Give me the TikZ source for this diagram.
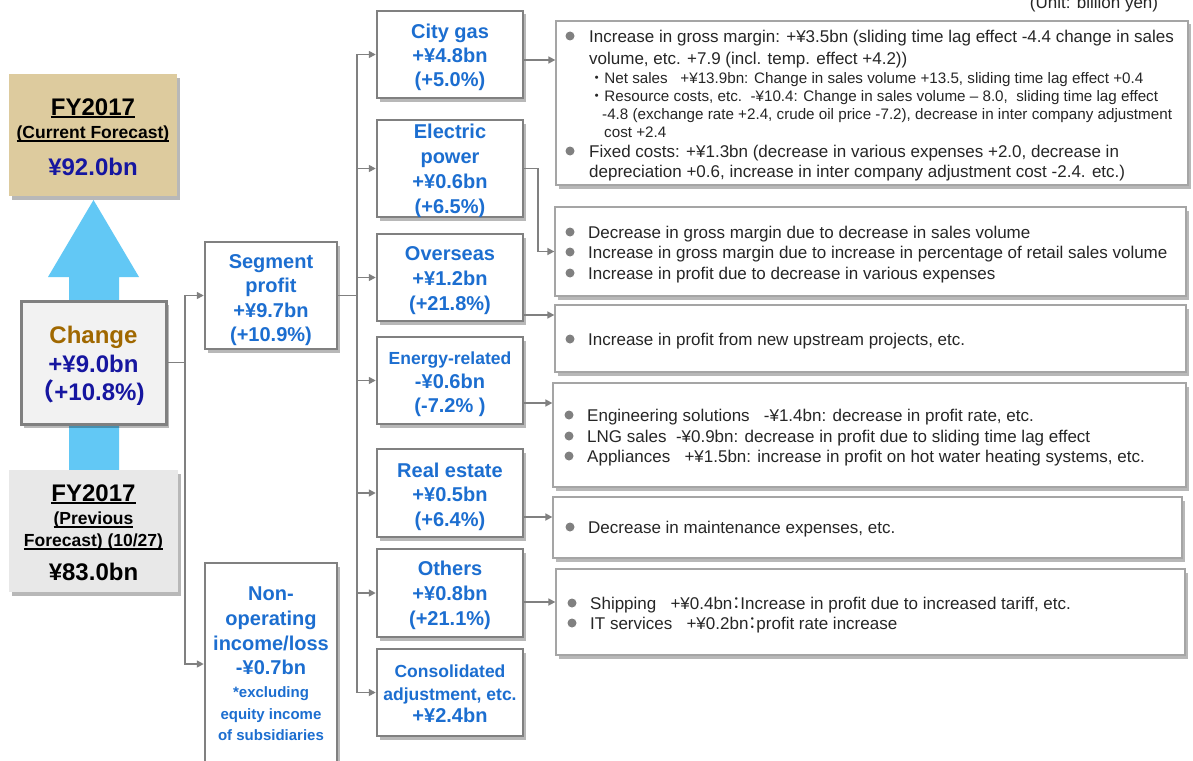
\documentclass[tikz,border=0pt]{standalone}
\usepackage{fontspec}
\setmainfont{Liberation Sans}
\newfontfamily\cjk{Noto Sans CJK JP}
\usetikzlibrary{arrows.meta,shadows,calc}
\definecolor{tanc}{RGB}{221,203,158}
\definecolor{skyb}{RGB}{98,200,245}
\definecolor{txtblue}{RGB}{28,110,208}
\definecolor{dkblue}{RGB}{22,22,160}
\definecolor{brnc}{RGB}{160,104,0}
\definecolor{chfill}{RGB}{242,242,242}
\definecolor{pvfill}{RGB}{232,232,232}
\definecolor{bordc}{RGB}{128,128,128}
\definecolor{rbordc}{RGB}{165,165,165}
\definecolor{wirec}{RGB}{128,128,128}
\definecolor{dotc}{RGB}{128,128,128}
\definecolor{rtxt}{RGB}{38,38,38}
\newcommand\ulx[2][1.8pt]{\setbox0=\hbox{#2}\leavevmode\rlap{\rule[-3pt]{\wd0}{#1}}\box0}
\tikzset{
 shad/.style={drop shadow={shadow xshift=3pt,shadow yshift=-3.5pt,opacity=0.28,fill=black}},
 midbox/.style={shad,draw=bordc,line width=2.5pt,fill=white,inner sep=0,minimum width=146pt},
 rbox/.style={shad,draw=rbordc,line width=1.3pt,fill=white,inner sep=0},
 wire/.style={draw=wirec,line width=1.6pt},
 arr/.style={wire,-{Triangle[length=7pt,width=7pt]}},
 bt/.style={inner sep=0,anchor=mid,yshift=-4.5pt,text=txtblue,font=\fontsize{20}{24}\selectfont\bfseries},
 bts/.style={bt,font=\fontsize{17.5}{21}\selectfont\bfseries},
 btx/.style={bt,font=\fontsize{15}{18}\selectfont\bfseries},
 rt/.style={inner sep=0,anchor=mid west,yshift=-3.5pt,text=rtxt,font=\fontsize{17}{20}\selectfont},
 rts/.style={rt,font=\fontsize{15.2}{18}\selectfont},
 lt/.style={inner sep=0,anchor=mid,yshift=-5.5pt,font=\fontsize{24}{28}\selectfont\bfseries},
 lts/.style={lt,yshift=1.5pt,font=\fontsize{17.5}{21}\selectfont\bfseries},
 bul/.style={fill=dotc}
}
\begin{document}
\begin{tikzpicture}[x=1pt,y=-1pt]
\useasboundingbox (0,0) rectangle (1193,760);
\fill[white] (0,0) rectangle (1193,760);
% big blue arrow
\fill[skyb] (69,470) -- (69,277) -- (48,277) -- (93.5,200) -- (139,277) -- (119,277) -- (119,470) -- cycle;
% left boxes
\node[shad,fill=tanc,inner sep=0,minimum width=168pt,minimum height=122pt] (cur) at (93,135) {};
\node[shad,fill=pvfill,inner sep=0,minimum width=169pt,minimum height=122pt] (prev) at (93.5,531) {};
\node[shad,fill=chfill,draw=bordc,line width=3pt,inner sep=0,minimum width=145pt,minimum height=123pt] (change) at (93.5,362.5) {};
% second column
\node[midbox,minimum width=132pt,minimum height=107pt] (seg) at (271,295.5) {};
\node[midbox,minimum width=132pt,minimum height=202pt] (nonop) at (271,664) {};
% middle column
\node[midbox,minimum height=87pt] (citygas) at (450,54.5) {};
\node[midbox,minimum height=97pt] (elec) at (450,168.5) {};
\node[midbox,minimum height=87pt] (overseas) at (450,277.5) {};
\node[midbox,minimum height=87pt] (energy) at (450,380.5) {};
\node[midbox,minimum height=88pt] (realest) at (450,493) {};
\node[midbox,minimum height=88pt] (others) at (450,593) {};
\node[midbox,minimum height=87pt] (consol) at (450,692.5) {};
% right column
\node[rbox,minimum width=632pt,minimum height=164pt] (r1) at (872,103) {};
\node[rbox,minimum width=631pt,minimum height=89pt] (r2) at (870.5,251.5) {};
\node[rbox,minimum width=631pt,minimum height=67pt] (r3) at (870.5,338.5) {};
\node[rbox,minimum width=633pt,minimum height=104pt] (r4) at (869.5,435) {};
\node[rbox,minimum width=629pt,minimum height=61pt] (r5) at (867.5,527.5) {};
\node[rbox,minimum width=629pt,minimum height=86pt] (r6) at (870.5,612) {};
% connectors
\draw[arr] (change.east) -- ++(17.5,0) |- (seg.west);
\draw[arr] (change.east) -- ++(17.5,0) |- (nonop.west);
\foreach \t in {citygas,elec,overseas,energy,realest,others,consol}
  \draw[arr] (seg.east) -- ++(19,0) |- (\t.west);
\path ($(citygas.east)+(0,5.5)$) coordinate (cg1);
\draw[arr] (cg1) -- (cg1 -| r1.west);
\draw[arr] (elec.east) -- ++(14,0) |- (r2.west);
\path ($(overseas.east)+(0,37.5)$) coordinate (os1);
\draw[arr] (os1) -- (os1 -| r3.west);
\path ($(energy.east)+(0,22.5)$) coordinate (en1);
\draw[arr] (en1) -- (en1 -| r4.west);
\path ($(realest.east)+(0,24)$) coordinate (re1);
\draw[arr] (re1) -- (re1 -| r5.west);
\path ($(others.east)+(0,9)$) coordinate (ot1);
\draw[arr] (ot1) -- (ot1 -| r6.west);
% unit
\node[inner sep=0,anchor=base,text=rtxt,font=\fontsize{17}{20}\selectfont] (unit) at (1094,9) {(Unit: billion yen)};
% left texts
\node[lt] (curA) at (93,107) {\ulx{FY2017}};
\node[lts] (curB) at (93,132) {\ulx[1.3pt]{(Current Forecast)}};
\node[lt,text=dkblue] (curC) at (93,167) {¥92.0bn};
\node[lt,text=brnc] (chA) at (93.5,335) {Change};
\node[lt,text=dkblue] (chB) at (93.5,364) {+¥9.0bn};
\node[lt,text=dkblue] (chC) at (87.5,392) {{\cjk （}+10.8\%)};
\node[lt] (pvA) at (93.5,493) {\ulx{FY2017}};
\node[lts] (pvB) at (93.5,518) {\ulx[1.3pt]{(Previous}};
\node[lts] (pvC) at (93.5,540) {\ulx[1.3pt]{Forecast) (10/27)}};
\node[lt] (pvD) at (93.5,572) {¥83.0bn};
% segment / non-op texts
\node[bt] (segA) at (271,261) {Segment};
\node[bt] (segB) at (271,285) {profit};
\node[bt] (segC) at (271,310) {+¥9.7bn};
\node[bt] (segD) at (271,334) {(+10.9\%)};
\node[bt] (noA) at (271,593) {Non-};
\node[bt] (noB) at (271,618) {operating};
\node[bt] (noC) at (271,643) {income/loss};
\node[bt] (noD) at (271,667) {-¥0.7bn};
\node[btx] (noE) at (271,690) {*excluding};
\node[btx] (noF) at (271,712) {equity income};
\node[btx] (noG) at (271,733) {of subsidiaries};
% middle texts
\node[bt] (cgA) at (450,31) {City gas};
\node[bt] (cgB) at (450,55) {+¥4.8bn};
\node[bt] (cgC) at (450,79) {(+5.0\%)};
\node[bt] (elA) at (450,131) {Electric};
\node[bt] (elB) at (450,156) {power};
\node[bt] (elC) at (450,181) {+¥0.6bn};
\node[bt] (elD) at (450,206) {(+6.5\%)};
\node[bt] (osA) at (450,253) {Overseas};
\node[bt] (osB) at (450,278) {+¥1.2bn};
\node[bt] (osC) at (450,303) {(+21.8\%)};
\node[bts] (enA) at (450,357) {Energy-related};
\node[bt] (enB) at (450,381) {-¥0.6bn};
\node[bt] (enC) at (450,405) {(-7.2\% )};
\node[bt] (reA) at (450,470) {Real estate};
\node[bt] (reB) at (450,494) {+¥0.5bn};
\node[bt] (reC) at (450,519) {(+6.4\%)};
\node[bt] (otA) at (450,568) {Others};
\node[bt] (otB) at (450,593) {+¥0.8bn};
\node[bt] (otC) at (450,618) {(+21.1\%)};
\node[bts] (coA) at (450,670) {Consolidated};
\node[bts] (coB) at (450,693) {adjustment, etc.};
\node[bt] (coC) at (450,715) {+¥2.4bn};
% right box 1
\fill[bul] (570,36) circle (4.5pt);
\node[rt] (r1a) at (589,36) {Increase in gross margin: +¥3.5bn (sliding time lag effect -4.4 change in sales};
\node[rt] (r1b) at (589,58) {volume, etc. +7.9 (incl. temp. effect +4.2))};
\node[rts] (r1c) at (589,77) {{\cjk ・}Net sales\ \ \ +¥13.9bn: Change in sales volume +13.5, sliding time lag effect +0.4};
\node[rts] (r1d) at (589,95) {{\cjk ・}Resource costs, etc.\ \ -¥10.4: Change in sales volume – 8.0,\ \ sliding time lag effect};
\node[rts] (r1e) at (602,113) {-4.8 (exchange rate +2.4, crude oil price -7.2), decrease in inter company adjustment};
\node[rts] (r1f) at (604,131) {cost +2.4};
\fill[bul] (570,151) circle (4.5pt);
\node[rt] (r1g) at (589,151) {Fixed costs: +¥1.3bn (decrease in various expenses +2.0, decrease in};
\node[rt] (r1h) at (589,171) {depreciation +0.6, increase in inter company adjustment cost -2.4. etc.)};
% right box 2
\fill[bul] (570,232) circle (4.5pt);
\fill[bul] (570,252) circle (4.5pt);
\fill[bul] (570,273) circle (4.5pt);
\node[rt] (r2a) at (588,232) {Decrease in gross margin due to decrease in sales volume};
\node[rt] (r2b) at (588,252) {Increase in gross margin due to increase in percentage of retail sales volume};
\node[rt] (r2c) at (588,273) {Increase in profit due to decrease in various expenses};
% right box 3
\fill[bul] (570,339) circle (4.5pt);
\node[rt] (r3a) at (588,339) {Increase in profit from new upstream projects, etc.};
% right box 4
\fill[bul] (569,415) circle (4.5pt);
\fill[bul] (569,436) circle (4.5pt);
\fill[bul] (569,456) circle (4.5pt);
\node[rt] (r4a) at (587,415) {Engineering solutions\ \ \ -¥1.4bn: decrease in profit rate, etc.};
\node[rt] (r4b) at (587,436) {LNG sales\ \ -¥0.9bn: decrease in profit due to sliding time lag effect};
\node[rt] (r4c) at (587,456) {Appliances\ \ \ +¥1.5bn: increase in profit on hot water heating systems, etc.};
% right box 5
\fill[bul] (570,527) circle (4.5pt);
\node[rt] (r5a) at (588,527) {Decrease in maintenance expenses, etc.};
% right box 6
\fill[bul] (572,603) circle (4.5pt);
\fill[bul] (572,623) circle (4.5pt);
\node[rt] (r6a) at (590,603) {Shipping\ \ \ +¥0.4bn\makebox[8pt]{\cjk ：}Increase in profit due to increased tariff, etc.};
\node[rt] (r6b) at (590,623) {IT services\ \ \ +¥0.2bn\makebox[8pt]{\cjk ：}profit rate increase};
\end{tikzpicture}
\end{document}
